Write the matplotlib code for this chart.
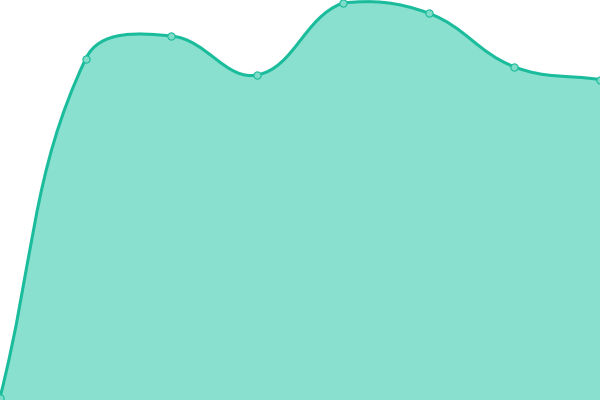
import numpy as np
import matplotlib
matplotlib.use("Agg")
import matplotlib.pyplot as plt
from matplotlib.path import Path
from matplotlib.patches import PathPatch

# Data
categories = ["A", "B", "C", "D", "E", "F", "G", "H"]
values = [0.6, 85.3, 91.0, 81.25, 99.25, 96.7, 83.3, 80.1]

LINE = "#1abc9c"
FILL = "#89e0ce"
MARK = "#7fdcc8"

fig = plt.figure(figsize=(6, 4), dpi=100)
ax = fig.add_axes([0, 0, 1, 1])
ax.set_xlim(0, len(categories) - 1)
ax.set_ylim(0, 100)
ax.axis("off")

x = np.arange(len(categories), dtype=float)
y = np.array(values, dtype=float)

# Chart.js style spline (tension 0.4) computed in display space
pts = ax.transData.transform(np.column_stack([x, y]))
t = 0.4
n = len(pts)
cps_prev = [None] * n
cps_next = [None] * n
for i in range(n):
    cur = pts[i]
    prev = pts[i - 1] if i > 0 else cur
    nxt = pts[i + 1] if i < n - 1 else cur
    d01 = np.hypot(*(cur - prev))
    d12 = np.hypot(*(nxt - cur))
    s = d01 + d12
    s01 = d01 / s if s else 0
    s12 = d12 / s if s else 0
    cps_prev[i] = cur - t * s01 * (nxt - prev)
    cps_next[i] = cur + t * s12 * (nxt - prev)

bbox = ax.bbox
def cap(p):
    return np.array([min(max(p[0], bbox.x0), bbox.x1), min(max(p[1], bbox.y0), bbox.y1)])

verts = [pts[0]]
codes = [Path.MOVETO]
for i in range(n - 1):
    verts += [cap(cps_next[i]), cap(cps_prev[i + 1]), pts[i + 1]]
    codes += [Path.CURVE4] * 3
inv = ax.transData.inverted()
verts_data = inv.transform(np.array(verts))

line_path = Path(verts_data, codes)
fill_verts = list(verts_data) + [[x[-1], 0], [x[0], 0], verts_data[0]]
fill_codes = codes + [Path.LINETO, Path.LINETO, Path.CLOSEPOLY]
fill_path = Path(fill_verts, fill_codes)

ax.add_patch(PathPatch(fill_path, facecolor=FILL, edgecolor="none", zorder=1))
ax.add_patch(PathPatch(line_path, facecolor="none", edgecolor=LINE, linewidth=2.2, zorder=2,
                       capstyle="round", joinstyle="round"))
ax.plot(x, y, linestyle="none", marker="o", markersize=5.2, markerfacecolor=MARK,
        markeredgecolor=LINE, markeredgewidth=0.8, zorder=3, clip_on=True)

fig.savefig("out.png", dpi=100)
